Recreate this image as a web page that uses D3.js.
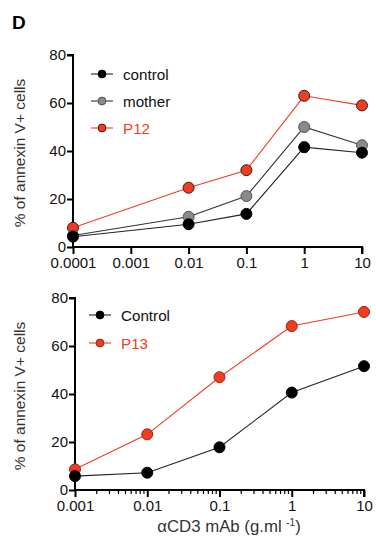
<!DOCTYPE html>
<html><head><meta charset="utf-8">
<script src="https://cdn.jsdelivr.net/npm/d3@7/dist/d3.min.js"></script>
<style>body{margin:0;background:#fff}svg{display:block}text{font-family:"Liberation Sans",Arial,sans-serif}</style>
</head><body><svg id="c" width="376" height="543"></svg>
<script>
// Panel 1 data
const dosesA = [0.0001, 0.01, 0.1, 1, 10];
const tickA = [0.0001, 0.001, 0.01, 0.1, 1, 10];
const controlA = [4.3, 9.5, 13.8, 41.6, 39.3];
const controlAErr = [0.5, 0.5, 0.5, 2.0, 0.5];
const motherA = [4.8, 12.6, 21.2, 50.0, 42.4];
const motherAErr = [0.5, 0.5, 1.6, 0.5, 0.5];
const p12A = [8.0, 24.7, 32.0, 63.0, 59.0];
// Panel 2 data
const dosesB = [0.001, 0.01, 0.1, 1, 10];
const tickB = [0.001, 0.01, 0.1, 1, 10];
const controlB = [5.8, 7.2, 17.8, 40.6, 51.6];
const p13B = [8.6, 23.2, 47.0, 68.3, 74.2];
const yTicks = [0, 20, 40, 60, 80];

const svg = d3.select("#c");
const RED = "#f03c22", GREY = "#8a8a8a";

svg.append("text").attr("x", 12).attr("y", 29).attr("font-size", 19).attr("font-weight", "bold").text("D");

function fmt(d){ return String(d); }

function panel(o){
  const g = svg.append("g");
  const x = d3.scaleLog().domain(o.xdom).range([o.x0, o.x1]);
  const y = d3.scaleLinear().domain([0, 80]).range([o.y0, o.y1]);
  // y axis
  const ya = g.append("g").attr("transform", `translate(${o.x0},0)`)
    .call(d3.axisLeft(y).tickValues(yTicks).tickSize(6).tickPadding(1));
  ya.select(".domain").attr("stroke-width", 2).attr("d", `M-6,${o.y1}H0V${o.y0}`);
  ya.selectAll(".tick line").attr("stroke-width", 2);
  ya.selectAll("text").attr("font-size", 15).attr("fill", "#111").attr("dy", "0.3em");
  // x axis
  const xa = g.append("g").attr("transform", `translate(0,${o.y0})`)
    .call(d3.axisBottom(x).tickValues(o.ticks).tickFormat(fmt).tickSize(7).tickPadding(3));
  xa.select(".domain").attr("stroke-width", 2).attr("d", `M${o.x0},0H${o.x1}V7`);
  xa.selectAll(".tick line").attr("stroke-width", 2);
  xa.selectAll("text").attr("font-size", 15).attr("fill", "#111");
  if (o.minor) {
    const minors = [];
    o.ticks.slice(0, -1).forEach(t => { for (let k = 2; k <= 9; k++) minors.push(t * k); });
    g.append("g").selectAll("line").data(minors).join("line")
      .attr("x1", d => x(d)).attr("x2", d => x(d)).attr("y1", o.y0).attr("y2", o.y0 + 4)
      .attr("stroke", "#000").attr("stroke-width", 1.2);
  }
  // y label
  g.append("text").attr("transform", `translate(${o.labx},${(o.y0 + o.y1) / 2 + 2}) rotate(-90)`)
    .attr("text-anchor", "middle").attr("font-size", 15.5).attr("fill", "#333").text("% of annexin V+ cells");
  // series (drawn in reverse so first series is on top)
  o.series.slice().reverse().forEach(s => {
    const pts = o.doses.map((d, i) => [x(d), y(s.v[i])]);
    g.append("path").attr("d", d3.line()(pts)).attr("fill", "none")
      .attr("stroke", s.line).attr("stroke-width", 1.1);
    if (s.err) {
      g.append("g").selectAll("path").data(o.doses.map((d, i) => [d, s.v[i], s.err[i]])).join("path")
        .attr("d", d => `M${x(d[0]) - 3},${y(d[1] + d[2])}H${x(d[0]) + 3}M${x(d[0])},${y(d[1] + d[2])}V${y(d[1] - d[2])}M${x(d[0]) - 3},${y(d[1] - d[2])}H${x(d[0]) + 3}`)
        .attr("stroke", s.stroke).attr("stroke-width", 1.2).attr("fill", "none");
    }
    g.append("g").selectAll("circle").data(pts).join("circle")
      .attr("cx", d => d[0]).attr("cy", d => d[1]).attr("r", 5.5)
      .attr("fill", s.fill).attr("stroke", s.stroke).attr("stroke-width", 1);
  });
  // legend
  o.series.forEach((s, i) => {
    const ly = o.legY + i * o.legDy;
    g.append("line").attr("x1", o.legX - 11).attr("x2", o.legX + 11).attr("y1", ly).attr("y2", ly)
      .attr("stroke", s.line).attr("stroke-width", 1.1);
    g.append("circle").attr("cx", o.legX).attr("cy", ly).attr("r", 3.9)
      .attr("fill", s.fill).attr("stroke", s.stroke).attr("stroke-width", 1);
    g.append("text").attr("x", o.legX + 21).attr("y", ly + 5.5).attr("font-size", 15.2)
      .attr("fill", s.text).text(s.name);
  });
}

panel({
  x0: 73, x1: 362, y0: 247, y1: 55, xdom: [0.0001, 10], ticks: tickA, doses: dosesA, minor: false, labx: 25,
  legX: 102, legY: 74, legDy: 27,
  series: [
    {name: "control", v: controlA, err: controlAErr, fill: "#000", stroke: "#000", line: "#222", text: "#111"},
    {name: "mother", v: motherA, err: motherAErr, fill: GREY, stroke: "#555", line: "#333", text: "#111"},
    {name: "P12", v: p12A, fill: RED, stroke: "#3a1a10", line: RED, text: RED}
  ]
});

panel({
  x0: 75, x1: 364, y0: 490, y1: 298, xdom: [0.001, 10], ticks: tickB, doses: dosesB, minor: true, labx: 25,
  legX: 100, legY: 315, legDy: 28,
  series: [
    {name: "Control", v: controlB, fill: "#000", stroke: "#000", line: "#222", text: "#111"},
    {name: "P13", v: p13B, fill: RED, stroke: "#a02010", line: RED, text: RED}
  ]
});

const xl = svg.append("text").attr("x", 229).attr("y", 532).attr("text-anchor", "middle")
  .attr("font-size", 16.8).attr("fill", "#333");
xl.append("tspan").text("αCD3 mAb (g.ml ");
xl.append("tspan").attr("dy", -6).attr("font-size", 10).text("-1");
xl.append("tspan").attr("dy", 6).text(")");
</script></body></html>
